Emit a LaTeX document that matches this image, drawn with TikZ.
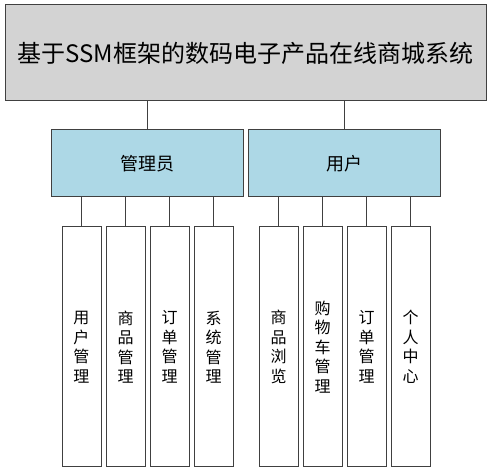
\documentclass[tikz,border=0pt]{standalone}
\usepackage{fontspec}
\setmainfont{Noto Sans CJK SC}
\usetikzlibrary{positioning}
\definecolor{edgegray}{RGB}{64,64,64}
\definecolor{topgray}{RGB}{211,211,211}
\definecolor{roleblue}{RGB}{173,216,230}
\begin{document}
\begin{tikzpicture}[x=1pt,y=1pt]
    \tikzstyle{link} = [draw=edgegray, line width=1pt]
       \tikzset{box/.style = {rectangle, draw=edgegray, line width=1pt, inner sep=0pt, align=center}, }
       \tikzset{sysbox/.style = {box, fill=topgray, minimum width=481pt, minimum height=96pt, font=\fontsize{24}{28}\selectfont}, }
       \tikzset{role/.style = {box, fill=roleblue, minimum width=192pt, minimum height=67pt, font=\fontsize{18}{22}\selectfont}, }
       \tikzset{leaf/.style = {box, fill=white, minimum width=39pt, minimum height=240pt, font=\fontsize{16}{19.5}\selectfont}, }
       \useasboundingbox (0,0) rectangle (491,-473);
       \node[sysbox] (sys) at (245.5,-53) {基于SSM框架的数码电子产品在线商城系统};
       \node[role] (admin) at (147,-163.5) {管理员};
       \node[role, right=4pt of admin] (user) {用户};

       % admin side
       \node[leaf] (usermgr) at (81.5,-347) {用\\户\\管\\理};
       \node[leaf, right=4pt of usermgr] (goodsmgr) {商\\品\\管\\理};
       \node[leaf, right=4pt of goodsmgr] (ordermgr) {订\\单\\管\\理};
       \node[leaf, right=4pt of ordermgr] (sysmgr) {系\\统\\管\\理};

       % user side
       \node[leaf] (browse) at (278.5,-347) {商\\品\\浏\\览};
       \node[leaf, right=4pt of browse] (cart) {购\\物\\车\\管\\理};
       \node[leaf, right=4pt of cart] (order) {订\\单\\管\\理};
       \node[leaf, right=4pt of order] (center) {个\\人\\中\\心};

       \draw[link] (sys.south -| admin.north) -- (admin.north);
       \draw[link] (sys.south -| user.north) -- (user.north);

       \draw[link] (admin.south -| usermgr.north) -- (usermgr.north);
       \draw[link] (admin.south -| goodsmgr.north) -- (goodsmgr.north);
       \draw[link] (admin.south -| ordermgr.north) -- (ordermgr.north);
       \draw[link] (admin.south -| sysmgr.north) -- (sysmgr.north);

       \draw[link] (user.south -| browse.north) -- (browse.north);
       \draw[link] (user.south -| cart.north) -- (cart.north);
       \draw[link] (user.south -| order.north) -- (order.north);
       \draw[link] (user.south -| center.north) -- (center.north);

\end{tikzpicture}
\end{document}
